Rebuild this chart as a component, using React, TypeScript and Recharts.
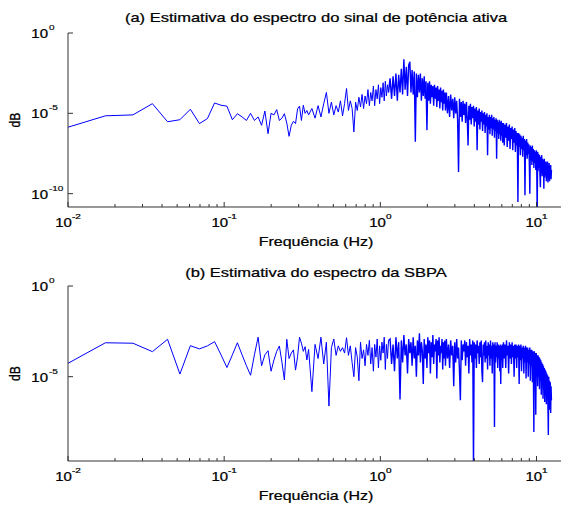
import React from "react";
import { LineChart, Line, XAxis, YAxis } from "recharts";

// FFT bin width (Hz) of both spectra
const BIN_HZ = 0.00868;
// from this bin on the trace is so dense that it reads as a band
const DENSE_FROM_BIN = 130;

const bins = [
  1, 2, 3, 4, 5, 6, 7, 8, 9, 10, 11, 12, 13, 14, 15, 16, 17, 18, 19, 20,
  21, 22, 23, 24, 25, 26, 27, 28, 29, 30, 31, 32, 33, 34, 35, 36, 37, 38, 39, 40,
  42, 44, 46, 48, 50, 52, 54, 56, 58, 60, 62, 64, 66, 68, 70, 72, 74, 76, 78, 80,
  82, 84, 86, 88, 90, 92, 94, 96, 98, 100, 102, 104, 106, 108, 110, 112, 114, 116, 118, 120,
  122, 124, 126, 128, 130,
  133, 136, 139, 142, 145, 148, 151, 154, 157, 160, 163, 166, 169, 172, 175, 178, 181, 184, 187, 190,
  193, 196, 199, 202, 205, 208, 211, 214, 217, 220, 223, 226, 229, 232, 235, 238, 241, 244, 247, 250,
  253, 256, 259, 262, 265, 268, 271, 274, 277, 280, 283, 286, 289, 292, 295, 298, 301,
  305, 310, 315, 320, 325, 330, 335, 340, 345, 350, 355, 360, 365, 370, 375, 380, 385, 390, 395, 400,
  405, 410, 415, 420, 425, 430, 435, 440, 445, 450, 455, 460, 465, 470, 475, 480, 485, 490, 495, 500,
  505, 510, 515, 520, 525, 530, 535, 540, 545, 550, 555, 560, 565, 570, 575, 580, 585, 590, 595, 600,
  605, 610, 615, 620, 625, 630, 635, 640, 645, 650, 655, 660, 665, 670, 675, 680, 685, 690, 695, 700,
  708, 716, 724, 732, 740, 748, 756, 764, 772, 780, 788, 796, 804, 812, 820, 828, 836, 844, 852, 860,
  868, 876, 884, 892, 900, 908, 916, 924, 932, 940, 948, 956, 964, 972, 980, 988, 996, 1004, 1012, 1020,
  1028, 1036, 1044, 1052, 1060, 1068, 1076, 1084, 1092, 1100, 1108, 1116, 1124, 1132, 1140, 1148, 1156, 1164, 1172, 1180,
  1188, 1196, 1204, 1212, 1220, 1228, 1236, 1244, 1252, 1260, 1268, 1276, 1284, 1292, 1300, 1308, 1316, 1324, 1332, 1340,
  1348, 1356, 1364, 1372, 1380, 1388, 1396, 1404, 1412, 1420, 1428, 1436,
];

// (a) active power spectrum
const powerA = [
  9e-7, 7e-6, 8e-6, 4e-5, 3e-6, 4e-6, 1.8e-5, 2.3e-6, 4.7e-6, 4.4e-5,
  3.2e-5, 2.8e-5, 4e-6, 9.5e-6, 6e-6, 3.6e-6, 1e-5, 3.6e-6, 6e-6, 1.8e-6,
  1.4e-5, 5.4e-7, 1e-5, 8e-6, 1.7e-5, 3.6e-6, 5e-6, 9.5e-6, 2.5e-6, 3.7e-7,
  1.8e-6, 3.2e-6, 2.3e-6, 1.9e-5, 2.8e-5, 3.6e-6, 3.2e-5, 1e-5, 1.5e-5, 8e-6,
  2e-5, 5e-6, 3e-5, 6e-6, 4e-5, 2e-4, 1e-5, 5e-5, 8e-6, 3e-5,
  1.2e-5, 6e-5, 7e-6, 4e-5, 3.5e-4, 1.5e-5, 6e-5, 2e-5, 7e-7, 5e-5,
  1.5e-5, 1e-4, 2.5e-5, 1.5e-4, 2e-5, 1.2e-4, 4e-5, 3e-4, 3e-5, 2e-4,
  6e-5, 5e-4, 3e-5, 3e-4, 8e-5, 6e-4, 4e-5, 4e-4, 1e-4, 8e-4,
  6e-5, 1e-3, 1.2e-4, 6e-4, 2e-4,
  1.5e-3, 8e-5, 2e-3, 1.2e-4, 3e-3, 6e-5, 2.5e-3, 2e-4, 6e-3, 1.5e-4,
  2.3e-2, 3e-4, 8e-3, 1.2e-4, 1e-2, 1.6e-2, 2e-4, 5e-3, 1.5e-4, 4e-3,
  1.7e-7, 3e-3, 1e-4, 2.5e-3, 2e-4, 3e-3, 6e-5, 1.5e-3, 1.2e-4, 2e-3,
  8e-5, 1e-3, 9e-7, 8e-4, 6e-5, 1e-3, 4e-5, 6e-4, 1e-4, 5e-4,
  3e-5, 6e-4, 8e-5, 4e-4, 2.5e-5, 5e-4, 6e-5, 3e-4, 2e-5, 4e-4,
  5e-5, 2.5e-4, 1.5e-5, 3e-4, 4e-5, 2e-4, 1.5e-5,
  2e-4, 1e-5, 1.2e-4, 6e-6, 1.5e-4, 1.5e-5, 8e-5, 5e-6, 1e-4, 1e-5,
  6e-5, 4e-6, 2.2e-9, 8e-5, 6e-6, 5e-5, 3e-6, 6e-5, 8e-6, 4e-5,
  2.5e-6, 5e-5, 5e-6, 1e-7, 3e-5, 4e-6, 4e-5, 2e-6, 2.5e-5, 5e-6,
  3e-5, 1.5e-6, 2e-5, 3e-6, 2.5e-5, 5e-8, 1.5e-5, 2e-6, 2e-5, 1e-6,
  1.2e-5, 3e-6, 1.5e-5, 8e-7, 1e-5, 2e-6, 1.2e-5, 6e-7, 8e-6, 1.5e-6,
  1e-5, 2.5e-8, 6e-6, 1e-6, 8e-6, 5e-7, 6e-6, 1.2e-6, 8e-6, 4e-7,
  5e-6, 1e-6, 6e-6, 3e-7, 4e-6, 8e-7, 5e-6, 1.5e-8, 4e-6, 6e-7,
  3e-6, 2.5e-7, 4e-6, 5e-7, 3e-6, 2e-7, 3.5e-6, 4e-7, 2.5e-6, 1.5e-7,
  2.5e-6, 1e-7, 2e-6, 3e-7, 2.5e-6, 8e-8, 1.5e-6, 2e-7, 2e-6, 6e-8,
  1.2e-6, 2.5e-7, 1.5e-6, 5e-8, 1e-6, 1.5e-7, 1.2e-6, 4e-8, 8e-7, 1e-7,
  6e-7, 3e-11, 6e-7, 8e-8, 5e-7, 2.5e-8, 4e-7, 6e-8, 3e-7, 2e-8,
  4e-7, 5e-8, 2.5e-7, 8e-11, 2e-7, 2.5e-8, 2.5e-7, 1.5e-8, 1.5e-7, 3e-8,
  1.2e-7, 1e-8, 1e-10, 1e-7, 1.2e-8, 8e-8, 6e-9, 1e-7, 1e-8, 6e-8,
  4e-9, 5e-8, 8e-9, 4e-8, 3e-9, 5e-8, 5e-9, 5e-12, 4e-8, 2.5e-9,
  3e-8, 4e-9, 2.5e-8, 1.5e-9, 2.5e-10, 2e-8, 2e-9, 2.5e-8, 1.2e-9, 1.5e-8,
  2.5e-9, 1.2e-8, 2e-10, 1.5e-8, 1e-9, 1e-8, 1.5e-9, 1e-8, 6e-10, 8e-9,
  1.2e-9, 1e-8, 5e-10, 6e-9, 1e-9, 8e-9, 6e-10, 5e-9, 1e-9, 6e-9,
  8e-10, 3e-9,
];

// (b) SBPA spectrum
const powerB = [
  2.8e-5, 7.4e-4, 7e-4, 2.4e-4, 1.15e-3, 1.4e-5, 5.1e-4, 3.4e-4, 5e-4, 8.5e-4,
  1.6e-4, 3.2e-5, 1.6e-4, 7.4e-4, 1.6e-4, 4e-5, 1.2e-5, 1.6e-4, 1.5e-3, 4e-5,
  1.6e-4, 2.7e-4, 2e-5, 8.3e-5, 2.5e-4, 4.9e-4, 6.3e-5, 6.6e-6, 1.15e-3, 1e-4,
  2e-4, 3e-4, 2.3e-5, 1.26e-4, 1.5e-3, 7e-4, 2.5e-4, 4.5e-4, 8.3e-5, 3.2e-4,
  1.5e-6, 6e-4, 1e-4, 1.5e-3, 5e-5, 8e-4, 2.4e-7, 4e-4, 1.2e-3, 1.5e-4,
  5e-4, 2.5e-4, 4e-4, 2e-4, 1.4e-3, 1.5e-4, 5e-4, 6e-5, 1e-5, 4e-4,
  1.2e-4, 6e-6, 8e-4, 1e-4, 3e-4, 4e-5, 6e-4, 1.5e-4, 1e-3, 5e-5,
  4e-4, 2e-5, 6e-4, 1.2e-4, 1.2e-3, 3e-5, 5e-4, 8e-5, 8e-4, 2e-4,
  1.5e-3, 2.5e-5, 6e-4, 1e-4, 1e-3,
  1.2e-3, 5e-5, 6e-4, 2e-5, 1.5e-3, 1e-4, 8e-4, 5.6e-7, 1e-3, 6e-5,
  2e-3, 1.5e-4, 6e-4, 1.5e-5, 1.2e-3, 2e-4, 8e-4, 4e-5, 1.5e-3, 1e-4,
  5e-4, 1e-5, 1e-3, 1.5e-4, 2.5e-3, 6e-5, 8e-4, 2.5e-4, 4e-6, 1.2e-3,
  1e-4, 6e-4, 3e-5, 1.5e-3, 2e-4, 1e-3, 1.5e-5, 8e-4, 1.2e-4, 2e-3,
  5e-5, 6e-4, 2.5e-4, 1.2e-3, 8e-6, 1e-3, 1.5e-4, 1.5e-3, 6e-5, 5e-4,
  2e-4, 1.2e-3, 2.5e-5, 8e-4, 1e-4, 1e-3, 4e-5,
  1.2e-3, 1e-4, 6e-4, 3e-5, 1e-3, 1.5e-4, 5e-4, 3e-6, 8e-4, 6e-5,
  1.2e-3, 1e-4, 4e-4, 2e-5, 5e-7, 1e-3, 8e-5, 6e-4, 2.5e-4, 1e-3,
  4e-5, 8e-4, 1.2e-4, 5e-4, 1.5e-5, 1.2e-3, 1.5e-4, 6e-4, 6e-5, 1e-3,
  1e-10, 8e-4, 1e-4, 6e-4, 3e-5, 1e-3, 2e-4, 5e-4, 5e-5, 8e-4,
  1.2e-4, 1e-3, 2e-5, 5e-6, 6e-4, 1.5e-4, 8e-4, 6e-5, 1e-3, 1e-4,
  5e-4, 2.5e-5, 8e-4, 1.5e-4, 6e-4, 4e-5, 1e-3, 1e-4, 5e-4, 1.5e-5,
  8e-4, 2e-4, 6e-4, 1.7e-8, 8e-4, 6e-5, 5e-4, 1.2e-4, 8e-4, 3e-5,
  6e-4, 1e-4, 5e-4, 2e-5, 6e-4, 4e-6, 5e-4, 8e-5, 6e-4, 3e-5,
  8e-4, 1e-4, 6e-4, 3e-5, 1e-3, 1.5e-4, 5e-4, 1.5e-5, 8e-4, 1e-4,
  6e-4, 5e-5, 8e-4, 1.2e-4, 5e-4, 1e-5, 6e-4, 1e-4, 6e-4, 3e-5,
  5e-4, 1.2e-4, 6e-4, 4e-6, 5e-4, 8e-5, 6e-4, 2e-5, 4e-4, 1e-4,
  5e-4, 1.5e-5, 4e-4, 6e-5, 5e-4, 8e-6, 4e-4, 6e-5, 4e-4, 1e-5,
  3e-4, 5e-5, 4e-4, 6e-6, 3e-4, 4e-5, 3e-4, 5e-6, 2.5e-4, 3e-5,
  9e-9, 2.5e-4, 1e-5, 2e-4, 8e-8, 2e-4, 2e-5, 1.5e-4, 3e-6, 1.5e-4,
  1e-5, 1.2e-4, 2e-6, 1e-4, 6e-6, 8e-5, 1e-6, 6e-5, 3e-6, 5e-5,
  6e-7, 4e-5, 2e-6, 3e-5, 4e-7, 2.5e-5, 1e-6, 2e-5, 3e-7, 1.5e-5,
  6e-7, 1.2e-5, 2e-7, 6e-9, 1e-5, 2e-7, 6e-6, 1.5e-7, 5e-6, 1e-7,
  3e-6, 5e-7,
];

const xTicks = [
  0.01, 0.02, 0.03, 0.04, 0.05, 0.06, 0.07, 0.08, 0.09,
  0.1, 0.2, 0.3, 0.4, 0.5, 0.6, 0.7, 0.8, 0.9,
  1, 2, 3, 4, 5, 6, 7, 8, 9, 10,
];
const yTicksA = [1e-10, 1e-5, 1];
const yTicksB = [1e-5, 1];
const titles = [
  "(a) Estimativa do espectro do sinal de potência ativa",
  "(b) Estimativa do espectro da SBPA",
];
const xLabel = "Frequência (Hz)";
const yLabel = "dB";

// the sparse (thin) and dense (band) parts share the bin at DENSE_FROM_BIN
const rows = bins.map((k, i) => ({
  f: k * BIN_HZ,
  a: k <= DENSE_FROM_BIN ? powerA[i] : null,
  aDense: k >= DENSE_FROM_BIN ? powerA[i] : null,
  b: k <= DENSE_FROM_BIN ? powerB[i] : null,
  bDense: k >= DENSE_FROM_BIN ? powerB[i] : null,
}));

const FONT = "'Liberation Sans', Arial, Helvetica, sans-serif";
const SQUASH = 0.81; // the picture is squeezed vertically
const AXIS = "#333";
const BLUE = "#0000ff";
const CHART_W = 570;

const isDecade = (v: number) => Math.abs(Math.log10(v) - Math.round(Math.log10(v))) < 1e-6;

function XTickBottom(props: any) {
  const { x, y, payload } = props;
  const v = payload.value;
  const major = isDecade(v);
  return (
    <g>
      <line x1={x} x2={x} y1={y} y2={y - (major ? 5 : 3)} stroke={AXIS} />
      {major && (
        <g transform={`translate(${x},${y + 20}) scale(1,${SQUASH})`}>
          <text textAnchor="middle" fontFamily={FONT} fontSize={15} fill="#000" stroke="#000" strokeWidth={0.3}>
            10
            <tspan dy={-10} fontSize={10}>
              {Math.round(Math.log10(v))}
            </tspan>
          </text>
        </g>
      )}
    </g>
  );
}

function XTickTop(props: any) {
  const { x, y, payload } = props;
  const major = isDecade(payload.value);
  return <line x1={x} x2={x} y1={y} y2={y + (major ? 5 : 3)} stroke={AXIS} />;
}

function YTickLeft(props: any) {
  const { x, y, payload } = props;
  const e = Math.round(Math.log10(payload.value));
  return (
    <g>
      <line x1={x} x2={x + 5} y1={y} y2={y} stroke={AXIS} />
      <g transform={`translate(${x - 20},${y + 5}) scale(1,${SQUASH})`}>
        <text textAnchor="end" fontFamily={FONT} fontSize={15} fill="#000" stroke="#000" strokeWidth={0.3}>
          10
        </text>
        <text x={1} y={-10} fontFamily={FONT} fontSize={10} fill="#000" stroke="#000" strokeWidth={0.2}>
          {e}
        </text>
      </g>
    </g>
  );
}

function YTickRight(props: any) {
  const { x, y } = props;
  return <line x1={x} x2={x - 5} y1={y} y2={y} stroke={AXIS} />;
}

function Panel({ dataKey, height, top, bottom, yMin, yTicks }: any) {
  return (
    <LineChart width={CHART_W} height={height} data={rows} margin={{ top, right: 6, bottom: 0, left: 0 }}>
      <XAxis
        xAxisId="bottom"
        dataKey="f"
        type="number"
        scale="log"
        domain={[0.01, 15]}
        allowDataOverflow
        ticks={xTicks}
        interval={0}
        height={bottom}
        tickSize={0}
        tickMargin={0}
        tickLine={false}
        axisLine={{ stroke: AXIS }}
        tick={(p: any) => <XTickBottom {...p} />}
      />
      <XAxis
        xAxisId="top"
        orientation="top"
        dataKey="f"
        type="number"
        scale="log"
        domain={[0.01, 15]}
        allowDataOverflow
        ticks={xTicks}
        interval={0}
        height={0}
        tickSize={0}
        tickMargin={0}
        tickLine={false}
        axisLine={{ stroke: AXIS }}
        tick={(p: any) => <XTickTop {...p} />}
      />
      <YAxis
        yAxisId="left"
        type="number"
        scale="log"
        domain={[yMin, 1]}
        allowDataOverflow
        ticks={yTicks}
        interval={0}
        width={68}
        tickSize={0}
        tickMargin={0}
        tickLine={false}
        axisLine={{ stroke: AXIS }}
        tick={(p: any) => <YTickLeft {...p} />}
      />
      <YAxis
        yAxisId="right"
        orientation="right"
        type="number"
        scale="log"
        domain={[yMin, 1]}
        allowDataOverflow
        ticks={yTicks}
        interval={0}
        width={0}
        tickSize={0}
        tickMargin={0}
        tickLine={false}
        axisLine={{ stroke: AXIS }}
        tick={(p: any) => <YTickRight {...p} />}
      />
      <Line
        xAxisId="bottom"
        yAxisId="left"
        type="linear"
        dataKey={dataKey}
        stroke={BLUE}
        strokeWidth={1}
        dot={false}
        isAnimationActive={false}
      />
      <Line
        xAxisId="bottom"
        yAxisId="left"
        type="linear"
        dataKey={dataKey + "Dense"}
        stroke={BLUE}
        strokeWidth={1.4}
        dot={false}
        isAnimationActive={false}
      />
    </LineChart>
  );
}

function Caption({ x, y, size, rotate, children }: any) {
  return (
    <g transform={`translate(${x},${y}) scale(1,${SQUASH})${rotate ? " rotate(-90)" : ""}`}>
      <text textAnchor="middle" fontFamily={FONT} fontSize={size} fill="#000" stroke="#000" strokeWidth={0.3}>
        {children}
      </text>
    </g>
  );
}

export default function App() {
  return (
    <div
      style={{
        position: "absolute",
        left: 0,
        top: 0,
        width: 561,
        height: 505,
        overflow: "hidden",
        background: "#fff",
      }}
    >
      <div style={{ position: "absolute", left: 0, top: 0 }}>
        <Panel dataKey="a" height={252} top={33} bottom={45} yMin={1.48e-11} yTicks={yTicksA} />
      </div>
      <div style={{ position: "absolute", left: 0, top: 252 }}>
        <Panel dataKey="b" height={253} top={34} bottom={44} yMin={2.24e-10} yTicks={yTicksB} />
      </div>
      <svg
        width={561}
        height={505}
        style={{ position: "absolute", left: 0, top: 0, pointerEvents: "none" }}
      >
        <Caption x={316} y={22} size={16.5}>{titles[0]}</Caption>
        <Caption x={316} y={246} size={16}>{xLabel}</Caption>
        <Caption x={20} y={120} size={15} rotate>{yLabel}</Caption>
        <Caption x={316} y={277} size={16.5}>{titles[1]}</Caption>
        <Caption x={316} y={500} size={16}>{xLabel}</Caption>
        <Caption x={20} y={373.5} size={15} rotate>{yLabel}</Caption>
      </svg>
    </div>
  );
}
